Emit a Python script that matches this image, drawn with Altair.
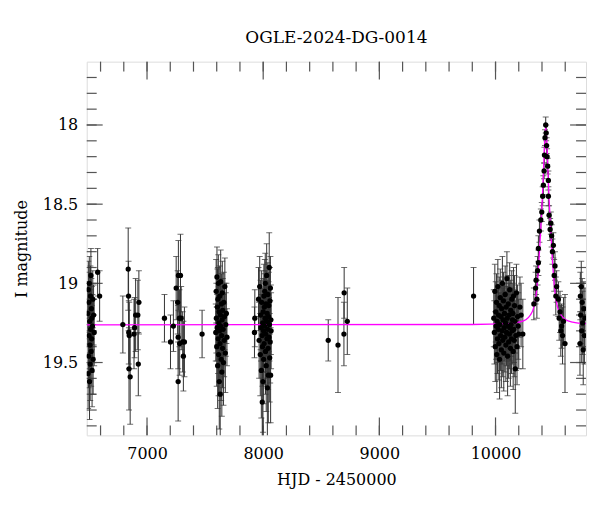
import altair as alt
import pandas as pd

TITLE = "OGLE-2024-DG-0014"
X_TITLE = "HJD - 2450000"
Y_TITLE = "I magnitude"

s1_hjd = [6490, 6493, 6495, 6497, 6499, 6501, 6503, 6505, 6507, 6509, 6511, 6513, 6515, 6517,
          6519, 6521, 6523, 6525, 6527, 6530, 6533, 6536, 6540, 6545, 6575, 6592]
s1_mag = [19.19, 19.57, 19.04, 19.46, 19.12, 19.33, 19.00, 19.62, 19.24, 19.39, 19.51, 19.08, 19.29, 18.95,
          19.43, 19.16, 19.35, 19.22, 19.55, 19.27, 19.10, 19.48, 19.20, 19.31, 18.93, 19.08]
s1_err = [0.20, 0.22, 0.18, 0.20, 0.19, 0.21, 0.17, 0.24, 0.20, 0.22, 0.23, 0.19, 0.20, 0.17,
          0.22, 0.19, 0.21, 0.20, 0.23, 0.20, 0.18, 0.22, 0.19, 0.21, 0.15, 0.16]

s2_hjd = [6792, 6838, 6841, 6843, 6847, 6845, 6855, 6893, 6888, 6902, 6921, 6930, 6925]
s2_mag = [19.26, 18.91, 19.08, 19.31, 19.33, 19.54, 19.59, 19.28, 19.32, 19.20, 19.20, 19.12, 19.51]
s2_err = [0.18, 0.26, 0.22, 0.20, 0.21, 0.26, 0.30, 0.19, 0.22, 0.23, 0.22, 0.20, 0.20]

s3_hjd = [7150, 7202, 7227, 7251, 7270, 7288, 7264, 7279, 7268, 7281, 7307, 7322, 7313, 7268, 7294, 7474]
s3_mag = [19.22, 19.37, 19.27, 19.03, 18.95, 18.95, 19.12, 19.22, 19.34, 19.38, 19.37, 19.37, 19.46, 19.62, 19.22, 19.32]
s3_err = [0.15, 0.17, 0.16, 0.20, 0.22, 0.26, 0.20, 0.18, 0.20, 0.20, 0.19, 0.22, 0.22, 0.25, 0.20, 0.15]

s4_hjd = [7592, 7595, 7597, 7600, 7602, 7604, 7606, 7608, 7610, 7612, 7614, 7616, 7618, 7620,
          7622, 7624, 7626, 7628, 7630, 7632, 7634, 7636, 7638, 7640, 7642, 7644, 7646, 7648,
          7650, 7652, 7655, 7658, 7661, 7664, 7667, 7670, 7674, 7678, 7683, 7688]
s4_mag = [19.31, 19.05, 19.22, 19.40, 18.96, 19.28, 19.15, 19.52, 19.10, 19.35, 19.00, 19.45, 19.25, 19.18,
          19.62, 19.30, 19.08, 19.38, 19.70, 19.20, 18.99, 19.27, 19.48, 19.13, 19.33, 19.56, 19.23, 19.06,
          19.41, 19.17, 19.29, 19.50, 19.12, 19.36, 19.21, 19.02, 19.44, 19.26, 19.19, 19.34]
s4_err = [0.18, 0.20, 0.22, 0.25, 0.19, 0.21, 0.24, 0.27, 0.20, 0.22, 0.18, 0.26, 0.23, 0.20,
          0.30, 0.22, 0.19, 0.24, 0.30, 0.21, 0.20, 0.23, 0.26, 0.19, 0.22, 0.28, 0.21, 0.20,
          0.25, 0.20, 0.22, 0.27, 0.19, 0.23, 0.21, 0.18, 0.25, 0.20, 0.19, 0.18]

s5_hjd = [7925, 7928, 7960, 7965, 7970, 7975, 7978, 7981, 7984, 7987, 7990, 7992, 7994, 7996,
          7998, 8000, 8002, 8004, 8006, 8008, 8010, 8012, 8014, 8016, 8018, 8020, 8022, 8024,
          8026, 8028, 8030, 8032, 8034, 8036, 8038, 8040, 8042, 8044, 8046, 8048, 8050, 8052,
          8054, 8056, 8058, 8060, 8062, 8064, 8066, 8068]
s5_mag = [19.31, 19.22, 19.10, 19.36, 19.02, 19.45, 19.20, 19.28, 19.55, 19.12, 19.33, 19.75, 19.40, 19.25,
          19.62, 19.18, 19.30, 19.48, 19.08, 19.38, 19.15, 19.27, 19.05, 19.22, 19.00, 19.43, 19.32, 19.13,
          19.52, 19.24, 18.95, 19.35, 19.19, 19.66, 19.29, 19.07, 19.41, 19.58, 19.21, 19.14, 19.34, 18.90,
          19.26, 19.47, 19.11, 19.37, 19.03, 19.58, 19.23, 19.30]
s5_err = [0.16, 0.18, 0.20, 0.24, 0.19, 0.26, 0.22, 0.21, 0.30, 0.20, 0.23, 0.30, 0.25, 0.22,
          0.32, 0.21, 0.23, 0.28, 0.20, 0.26, 0.21, 0.22, 0.20, 0.23, 0.19, 0.27, 0.24, 0.21,
          0.29, 0.22, 0.20, 0.25, 0.21, 0.32, 0.23, 0.20, 0.26, 0.30, 0.22, 0.21, 0.25, 0.22,
          0.23, 0.28, 0.21, 0.26, 0.20, 0.30, 0.22, 0.24]

s6_hjd = [8560, 8644, 8695, 8697, 8724, 9811]
s6_mag = [19.36, 19.39, 19.32, 19.06, 19.24, 19.08]
s6_err = [0.13, 0.30, 0.20, 0.16, 0.21, 0.18]

s7_hjd = [9985, 9990, 9994, 9998, 10002, 10005, 10008, 10011, 10014, 10017, 10020, 10023, 10026, 10029,
          10032, 10035, 10038, 10041, 10044, 10047, 10050, 10053, 10056, 10059, 10062, 10065, 10068, 10071,
          10074, 10077, 10080, 10083, 10086, 10089, 10092, 10095, 10098, 10101, 10104, 10107, 10110, 10113,
          10116, 10119, 10122, 10125, 10128, 10131, 10134, 10137, 10140, 10143, 10146, 10149, 10152, 10155,
          10158, 10161, 10164, 10167, 10170, 10175, 10180, 10185, 10190, 10195, 10200, 10210, 10220, 10235]
s7_mag = [19.22, 19.31, 19.05, 19.40, 19.18, 19.27, 19.12, 19.45, 19.24, 19.35, 19.02, 19.29, 19.20, 19.38,
          19.14, 19.48, 19.26, 19.09, 19.33, 19.21, 19.42, 19.16, 19.30, 19.00, 19.36, 19.23, 19.11, 19.44,
          19.28, 19.19, 19.34, 19.07, 19.25, 19.39, 19.15, 19.31, 18.97, 19.22, 19.46, 19.27, 19.13, 19.37,
          19.20, 19.32, 19.04, 19.28, 19.41, 19.17, 19.26, 19.35, 19.10, 19.30, 19.23, 19.19, 19.43, 19.08,
          19.29, 19.36, 19.14, 19.24, 19.54, 19.33, 19.06, 19.40, 19.21, 19.27, 19.32, 19.15, 19.20, 19.32]
s7_err = [0.18, 0.20, 0.17, 0.22, 0.19, 0.21, 0.18, 0.24, 0.20, 0.22, 0.17, 0.21, 0.19, 0.23,
          0.18, 0.25, 0.20, 0.18, 0.22, 0.19, 0.24, 0.18, 0.21, 0.17, 0.23, 0.20, 0.18, 0.24,
          0.21, 0.19, 0.22, 0.18, 0.20, 0.23, 0.19, 0.21, 0.17, 0.20, 0.25, 0.21, 0.18, 0.23,
          0.20, 0.22, 0.17, 0.21, 0.24, 0.19, 0.20, 0.22, 0.18, 0.21, 0.20, 0.19, 0.24, 0.18,
          0.21, 0.23, 0.19, 0.20, 0.28, 0.22, 0.18, 0.24, 0.20, 0.21, 0.22, 0.19, 0.20, 0.22]

s8_hjd = [10330, 10345, 10349, 10356, 10362, 10369, 10369, 10378, 10390, 10398, 10406, 10412, 10418,
          10421, 10426, 10432, 10436, 10440, 10444, 10449, 10455, 10455, 10461, 10470, 10476, 10483,
          10490, 10498, 10505, 10512, 10519, 10526, 10541, 10548, 10555, 10562, 10569, 10577, 10585, 10598]
s8_mag = [19.13, 19.03, 18.98, 19.10, 18.92, 18.87, 18.78, 18.67, 18.60, 18.55, 18.45, 18.38, 18.29,
          18.19, 18.08, 18.00, 18.05, 18.13, 18.20, 18.26, 18.35, 18.45, 18.57, 18.66, 18.62, 18.70,
          18.80, 18.76, 18.95, 18.89, 19.08, 19.02, 19.10, 19.22, 19.18, 19.30, 19.27, 19.33, 19.24, 19.38]
s8_err = [0.10, 0.10, 0.09, 0.12, 0.09, 0.08, 0.08, 0.07, 0.07, 0.06, 0.06, 0.06, 0.05,
          0.05, 0.05, 0.05, 0.05, 0.05, 0.05, 0.05, 0.06, 0.06, 0.06, 0.07, 0.07, 0.07,
          0.08, 0.08, 0.10, 0.09, 0.12, 0.10, 0.11, 0.14, 0.13, 0.16, 0.14, 0.18, 0.15, 0.31]

s9_hjd = [10727, 10730, 10733, 10738, 10742, 10746, 10750, 10755, 10760, 10765, 10770]
s9_mag = [19.38, 19.08, 19.20, 19.02, 19.30, 19.12, 19.25, 19.42, 19.16, 19.33, 19.22]
s9_err = [0.20, 0.15, 0.18, 0.16, 0.20, 0.15, 0.20, 0.22, 0.17, 0.18, 0.19]

# ---- model curve ----
model_hjd = [6480, 9800, 10100, 10200, 10260, 10300, 10330, 10350, 10365, 10380, 10395, 10405,
             10415, 10423, 10428, 10432, 10436, 10441, 10449, 10459, 10469, 10484, 10499, 10514,
             10534, 10564, 10604, 10664, 10780]
model_mag = [19.262, 19.26, 19.255, 19.245, 19.23, 19.20, 19.15, 19.07, 18.95, 18.78, 18.58, 18.43,
             18.25, 18.10, 18.04, 18.02, 18.04, 18.10, 18.25, 18.43, 18.58, 18.78, 18.95, 19.07,
             19.15, 19.20, 19.23, 19.245, 19.255]

# ---- axes ----
x_domain = [6481, 10779]
y_domain = [17.6, 19.96]
x_major = [7000, 8000, 9000, 10000]
x_minor = list(range(6600, 10601, 200))
y_major = [18.0, 18.5, 19.0, 19.5]
y_minor = [round(17.7 + 0.1 * i, 1) for i in range(23)]

FONT = "DejaVu Serif"
W, H = 501, 375

hjd = s1_hjd + s2_hjd + s3_hjd + s4_hjd + s5_hjd + s6_hjd + s7_hjd + s8_hjd + s9_hjd
mag = s1_mag + s2_mag + s3_mag + s4_mag + s5_mag + s6_mag + s7_mag + s8_mag + s9_mag
err = s1_err + s2_err + s3_err + s4_err + s5_err + s6_err + s7_err + s8_err + s9_err
obs = pd.DataFrame({"hjd": hjd, "mag": mag, "err": err})
model = pd.DataFrame({"hjd": model_hjd, "mag": model_mag})

xs = alt.Scale(domain=x_domain, nice=False, zero=False)
ys = alt.Scale(domain=y_domain, nice=False, zero=False, reverse=True)
xaxis = alt.Axis(values=x_major, format="d", title=X_TITLE, grid=False, domain=False, ticks=False,
                 labelFont=FONT, labelFontSize=16, labelColor="black", labelPadding=10,
                 titleFont=FONT, titleFontSize=16, titleFontWeight="normal", titleColor="black",
                 titlePadding=10, labelFlush=False)
yaxis = alt.Axis(values=y_major, format="~g", title=Y_TITLE, grid=False, domain=False, ticks=False,
                 labelFont=FONT, labelFontSize=16, labelColor="black", labelPadding=9,
                 titleFont=FONT, titleFontSize=16, titleFontWeight="normal", titleColor="black",
                 titlePadding=13)

X = alt.X("hjd:Q", scale=xs, axis=xaxis)
EC = "#333333"

ebase = alt.Chart(obs).transform_calculate(lo="datum.mag - datum.err", hi="datum.mag + datum.err")
err_rules = ebase.mark_rule(color=EC, strokeWidth=1, clip=True).encode(
    x=X, y=alt.Y("lo:Q", scale=ys, axis=yaxis), y2="hi:Q")
cap_lo = ebase.mark_tick(orient="horizontal", size=6, thickness=1, color=EC, clip=True).encode(
    x=X, y=alt.Y("lo:Q", scale=ys, axis=yaxis))
cap_hi = ebase.mark_tick(orient="horizontal", size=6, thickness=1, color=EC, clip=True).encode(
    x=X, y=alt.Y("hi:Q", scale=ys, axis=yaxis))
points = alt.Chart(obs).mark_circle(size=28, color="black", opacity=1, clip=True).encode(
    x=X, y=alt.Y("mag:Q", scale=ys, axis=yaxis))
line = alt.Chart(model).mark_line(color="#ff00ff", strokeWidth=1.3, interpolate="monotone", clip=True).encode(
    x=X, y=alt.Y("mag:Q", scale=ys, axis=yaxis))

TC = "#555555"
def xticks(vals, length):
    d = pd.DataFrame({"v": vals})
    top = alt.Chart(d).mark_rule(color=TC, strokeWidth=1.2).encode(
        x=alt.X("v:Q", scale=xs, axis=xaxis), y=alt.value(0), y2=alt.value(length))
    bot = alt.Chart(d).mark_rule(color=TC, strokeWidth=1.2).encode(
        x=alt.X("v:Q", scale=xs, axis=xaxis), y=alt.value(H), y2=alt.value(H - length))
    return [top, bot]

def yticks(vals, length):
    d = pd.DataFrame({"v": vals})
    left = alt.Chart(d).mark_rule(color=TC, strokeWidth=1.2).encode(
        y=alt.Y("v:Q", scale=ys, axis=yaxis), x=alt.value(0), x2=alt.value(length))
    right = alt.Chart(d).mark_rule(color=TC, strokeWidth=1.2).encode(
        y=alt.Y("v:Q", scale=ys, axis=yaxis), x=alt.value(W), x2=alt.value(W - length))
    return [left, right]

layers = (xticks(x_minor, 10) + xticks(x_major, 18) + yticks(y_minor, 10) + yticks(y_major, 16)
          + [err_rules, cap_lo, cap_hi, line, points])

chart = alt.layer(*layers).properties(
    width=W, height=H,
    title=alt.TitleParams(TITLE, font=FONT, fontSize=17, fontWeight="normal", color="black",
                          anchor="middle", offset=14),
    padding={"left": 5, "top": 20, "right": 5, "bottom": 5},
).configure_view(stroke="black", strokeWidth=1.2).configure(background="white")

chart.save("out.html", embed_options={"renderer": "svg", "actions": False})
